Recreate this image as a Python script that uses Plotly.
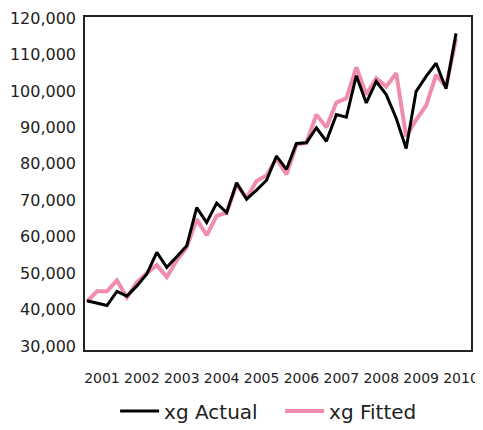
import plotly.graph_objects as go

# Quarterly observations 2001Q1 .. 2010Q2 (index 0..37)
quarters = list(range(38))
actual = [42400, 41700, 41100, 45000, 43700, 46500, 49800, 55700,
          51600, 54500, 57500, 68000, 63900, 69200, 66600, 74800,
          70300, 72800, 75500, 82100, 78500, 85600, 85800, 89900,
          86200, 93500, 92800, 104200, 96700, 102600, 99000, 92500,
          84200, 99900, 104000, 107600, 100600, 115800]
fitted = [42200, 45000, 45000, 48000, 43300, 47500, 50000, 52200,
          48900, 53500, 57100, 64800, 60400, 65700, 66600, 74400,
          70600, 75300, 76800, 81500, 77100, 85300, 85800, 93500,
          90000, 96800, 98000, 106500, 99000, 103500, 101200, 104900,
          87500, 92100, 96000, 104400, 101200, 114300]
year_labels = ["2001", "2002", "2003", "2004", "2005",
               "2006", "2007", "2008", "2009", "2010"]
year_pos = [1.5 + 4 * i for i in range(len(year_labels))]
y_ticks = list(range(30000, 120001, 10000))

FONT = "DejaVu Sans"

fig = go.Figure()
fig.add_trace(go.Scatter(x=quarters, y=fitted, mode="lines", name="xg Fitted",
                         line=dict(color="#f28cab", width=4), legendrank=2))
fig.add_trace(go.Scatter(x=quarters, y=actual, mode="lines", name="xg Actual",
                         line=dict(color="#000000", width=3), legendrank=1))

# page body has an 8px margin, so the figure is 8px smaller and left/top margins shifted
fig.update_layout(
    width=475, height=422,
    margin=dict(l=77, r=12, t=9, b=80, autoexpand=False),
    paper_bgcolor="white", plot_bgcolor="white",
    font=dict(family=FONT, color="#222222"),
    showlegend=True,
    legend=dict(orientation="h", x=0.078, xanchor="left", y=-0.183, yanchor="middle",
                font=dict(size=20, family=FONT, color="#222222"),
                bgcolor="rgba(0,0,0,0)", entrywidth=111, entrywidthmode="pixels",
                itemwidth=39),
)
fig.update_xaxes(range=[-0.2, 38.5], tickmode="array", tickvals=year_pos,
                 ticktext=year_labels, showgrid=False, zeroline=False,
                 showline=True, mirror=True, linecolor="#222222", linewidth=1.5,
                 ticks="", ticklabelstandoff=14, automargin=False,
                 ticklabeloverflow="allow",
                 tickfont=dict(size=14, family=FONT, color="#222222"))
fig.update_yaxes(range=[28900, 120300], tickmode="array", tickvals=y_ticks,
                 tickformat=",d", showgrid=False, zeroline=False,
                 showline=True, mirror=True, linecolor="#222222", linewidth=1.5,
                 ticks="", ticklabelstandoff=4, automargin=False,
                 tickfont=dict(size=16, family=FONT, color="#222222"))

fig.write_html("out.html")
